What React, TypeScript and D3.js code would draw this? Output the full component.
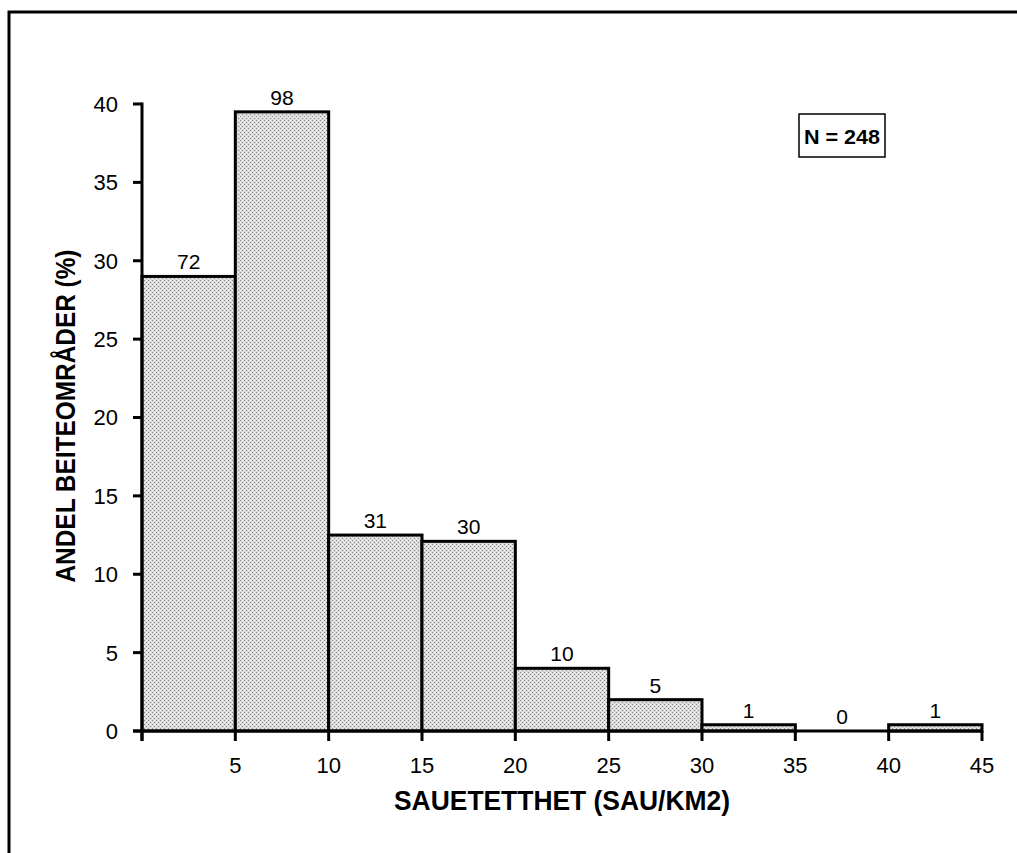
import React from "react";
import * as d3 from "d3";

const binStarts = [0, 5, 10, 15, 20, 25, 30, 35, 40];
const binWidth = 5;
const percentages = [29.0, 39.5, 12.5, 12.1, 4.0, 2.0, 0.4, 0, 0.4];
const counts = [72, 98, 31, 30, 10, 5, 1, 0, 1];
const xTicks = [0, 5, 10, 15, 20, 25, 30, 35, 40, 45];
const xTickLabels = ["", "5", "10", "15", "20", "25", "30", "35", "40", "45"];
const yTicks = [0, 5, 10, 15, 20, 25, 30, 35, 40];
const nLabel = "N = 248";
const xTitle = "SAUETETTHET (SAU/KM2)";
const yTitle = "ANDEL BEITEOMRÅDER (%)";

const W = 1017;
const H = 853;
const left = 142;
const right = 982;
const top = 104;
const bottom = 731;
const font = "'Liberation Sans', Arial, sans-serif";
const boldFont = "'Liberation Sans', Arial, sans-serif";

export default function App() {
  const x = d3.scaleLinear().domain([0, 45]).range([left, right]);
  const y = d3.scaleLinear().domain([0, 40]).range([bottom, top]);

  return (
    <svg
      width={W}
      height={H}
      style={{ position: "absolute", left: 0, top: 0, background: "#fff" }}
    >
      <defs>
        <pattern id="dither" width="4" height="4" patternUnits="userSpaceOnUse">
          <rect width="4" height="4" fill="#dadada" />
          <rect x="0" y="0" width="1" height="1" fill="#8c8c8c" />
          <rect x="2" y="2" width="1" height="1" fill="#8c8c8c" />
          <rect x="2" y="0" width="1" height="1" fill="#f4f4f4" />
          <rect x="0" y="2" width="1" height="1" fill="#f4f4f4" />
        </pattern>
      </defs>
      <rect x={9} y={12} width={1020} height={860} fill="none" stroke="#000" strokeWidth={3} />

      {/* bars */}
      {binStarts.map((s, i) =>
        percentages[i] > 0 ? (
          <rect
            key={"b" + i}
            x={x(s)}
            y={y(percentages[i])}
            width={x(s + binWidth) - x(s)}
            height={y(0) - y(percentages[i])}
            fill="url(#dither)"
            stroke="#000"
            strokeWidth={3}
          />
        ) : null
      )}

      {/* count labels */}
      {binStarts.map((s, i) => (
        <text
          key={"c" + i}
          x={x(s + binWidth / 2)}
          y={y(percentages[i]) - 7}
          textAnchor="middle"
          fontFamily={font}
          fontSize={21}
          fill="#000"
        >
          {counts[i]}
        </text>
      ))}

      {/* x axis */}
      <line x1={left - 9} x2={right} y1={bottom} y2={bottom} stroke="#000" strokeWidth={3} />
      {xTicks.map((t, i) => (
        <g key={"xt" + i}>
          <line x1={x(t)} x2={x(t)} y1={bottom} y2={bottom + 10} stroke="#000" strokeWidth={3} />
          <text
            x={x(t)}
            y={bottom + 42}
            textAnchor="middle"
            fontFamily={font}
            fontSize={22}
            fill="#000"
          >
            {xTickLabels[i]}
          </text>
        </g>
      ))}

      {/* y axis */}
      <line x1={left} x2={left} y1={top - 1.5} y2={bottom + 10} stroke="#000" strokeWidth={3} />
      {yTicks.map((t) => (
        <g key={"yt" + t}>
          <line x1={left - 9} x2={left} y1={y(t)} y2={y(t)} stroke="#000" strokeWidth={3} />
          <text
            x={118}
            y={y(t)}
            dy="0.36em"
            textAnchor="end"
            fontFamily={font}
            fontSize={22}
            fill="#000"
          >
            {t}
          </text>
        </g>
      ))}

      {/* titles */}
      <text
        x={562}
        y={810}
        textAnchor="middle"
        fontFamily={boldFont}
        fontWeight="bold"
        fontSize={27}
        textLength={336}
        lengthAdjust="spacingAndGlyphs"
        fill="#000"
      >
        {xTitle}
      </text>
      <text
        transform={`translate(75,416) rotate(-90)`}
        textAnchor="middle"
        fontFamily={boldFont}
        fontWeight="bold"
        fontSize={27}
        textLength={333}
        lengthAdjust="spacingAndGlyphs"
        fill="#000"
      >
        {yTitle}
      </text>

      {/* N box */}
      <rect x={799} y={114} width={86} height={43} fill="#fff" stroke="#000" strokeWidth={1.5} />
      <text
        x={842}
        y={136}
        dy="0.36em"
        textAnchor="middle"
        fontFamily={boldFont}
        fontWeight="bold"
        fontSize={21}
        textLength={76}
        lengthAdjust="spacingAndGlyphs"
        fill="#000"
      >
        {nLabel}
      </text>
    </svg>
  );
}
